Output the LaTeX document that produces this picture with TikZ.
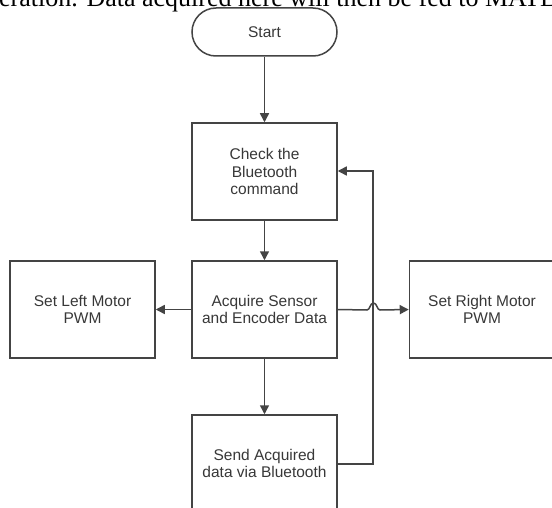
\documentclass[tikz,border=0pt]{standalone}
\usepackage{fontspec}
\setmainfont{Liberation Sans}
\newfontfamily\seriffont{Liberation Serif}
\usetikzlibrary{arrows.meta}
\definecolor{linec}{HTML}{444444}
\definecolor{textc}{HTML}{383838}
\begin{document}
\begin{tikzpicture}[x=1pt,y=-1pt,
  flowbox/.style={draw=linec, line width=1.5pt, minimum width=145pt, minimum height=97pt,
    align=center, text=textc, inner sep=0pt, font=\fontsize{15.5}{17.5}\selectfont},
  termbox/.style={draw=linec, line width=1.5pt, minimum width=145pt, minimum height=48pt,
    rounded corners=24pt, align=center, text=textc, inner sep=0pt, font=\fontsize{15.5}{17.5}\selectfont},
  conn/.style={draw=linec, line width=1.5pt},
  arr/.style={conn, -{Triangle[length=9pt,width=9pt]}}]
\useasboundingbox (0,0) rectangle (552,508);
\clip (0,0) rectangle (552,508);
\fill[white] (0,0) rectangle (552,508);
\node[anchor=base west, inner sep=0pt, font=\seriffont\fontsize{26}{30}\selectfont, text=black] (toptext) at (-1,6.5) {eration. Data acquired here will then be fed to MATLAB};
\node[termbox] (start) at (264.5,32) {Start};
\node[flowbox] (check) at (264.5,171.5) {Check the\\Bluetooth\\command};
\node[flowbox] (acq) at (264.5,309.5) {Acquire Sensor\\and Encoder Data};
\node[flowbox] (left) at (82.5,309.5) {Set Left Motor\\PWM};
\node[flowbox] (right) at (482,309.5) {Set Right Motor\\PWM};
\node[flowbox] (send) at (264.5,463.5) {Send Acquired\\data via Bluetooth};
\coordinate (lb) at (373,464);
\coordinate (lt) at (373,171);
\coordinate (jl) at (367,310);
\coordinate (jr) at (380,310);
\draw[arr] (start) -- (check);
\draw[arr] (check) -- (acq);
\draw[arr] (acq) -- (send);
\draw[arr] (acq) -- (left);
\draw[arr] (acq.east) -- (jl) .. controls (370,310) and (370,303) .. (373.5,303) .. controls (377,303) and (377,310) .. (jr) -- (right.west);
\draw[arr] (send.east |- lb) -- (lb) -- (lt) -- (check.east |- lt);
\end{tikzpicture}
\end{document}
